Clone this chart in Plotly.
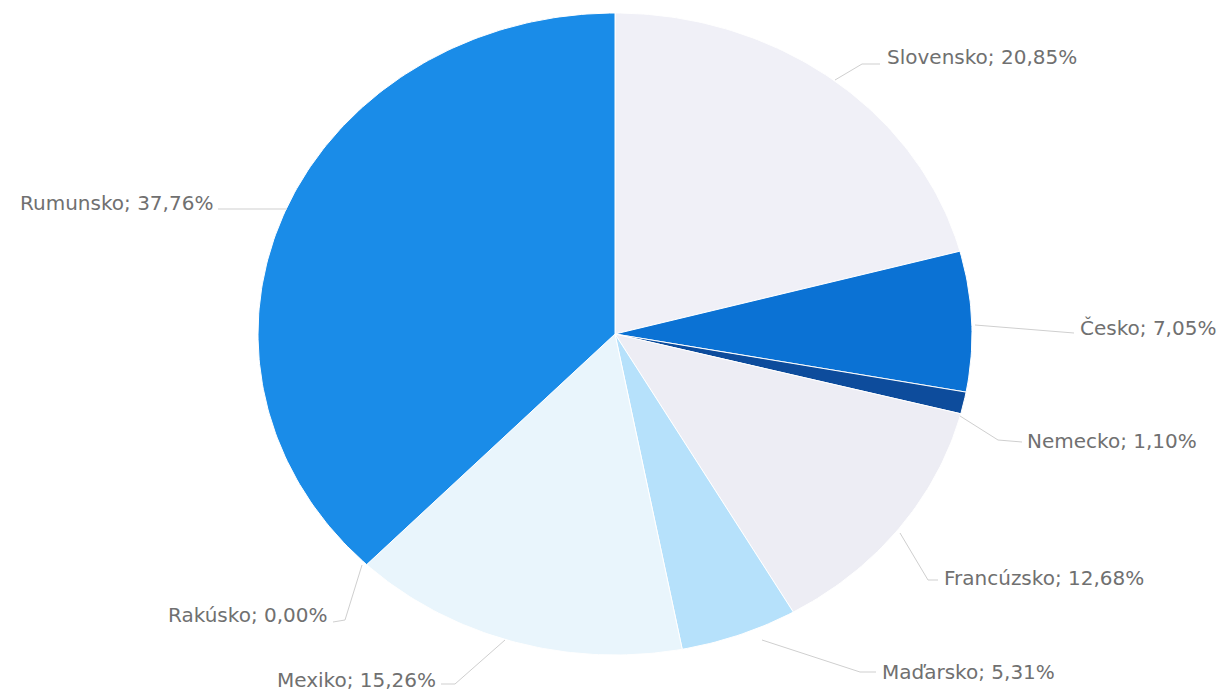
import math
import plotly.graph_objects as go

# Data (clockwise from 12 o'clock)
countries = ["Slovensko", "Česko", "Nemecko", "Francúzsko", "Maďarsko", "Mexiko", "Rakúsko", "Rumunsko"]
shares = [20.85, 7.05, 1.10, 12.68, 5.31, 15.26, 0.00, 37.76]
colors = ["#f0f0f7", "#0b72d4", "#0d4c9c", "#ededf4", "#b6e1fb", "#e9f5fc", "#e0f0fb", "#1a8ce8"]

# layout geometry (pixels)
W, H = 1229, 691
cx, cy, rx, ry = 615, 334, 357, 321

label_pos = {
    "Slovensko": (885, 57),
    "Česko": (1078, 328),
    "Nemecko": (1025, 441),
    "Francúzsko": (942, 578),
    "Maďarsko": (880, 672),
    "Mexiko": (438, 680),
    "Rakúsko": (330, 615),
    "Rumunsko": (215, 203),
}
label_anchor = {"Mexiko": "right", "Rakúsko": "right", "Rumunsko": "right"}
leaders = {
    "Slovensko": [(835, 80), (862, 64), (880, 64)],
    "Česko": [(975, 325), (1040, 330), (1074, 333)],
    "Nemecko": [(960, 416), (998, 440), (1022, 442)],
    "Francúzsko": [(900, 533), (928, 580), (938, 580)],
    "Maďarsko": [(762, 640), (860, 672), (876, 672)],
    "Mexiko": [(505, 640), (455, 684), (441, 684)],
    "Rakúsko": [(362, 565), (345, 620), (333, 622)],
    "Rumunsko": [(287, 209), (240, 209), (218, 209)],
}

fig = go.Figure()
total = sum(shares)
cum = 0.0
for name, val, col in zip(countries, shares, colors):
    a0 = cum / total * 2 * math.pi
    cum += val
    a1 = cum / total * 2 * math.pi
    if val <= 0:
        continue
    n = max(4, int(val * 4))
    xs, ys = [cx], [cy]
    for i in range(n + 1):
        a = a0 + (a1 - a0) * i / n
        xs.append(cx + rx * math.sin(a))
        ys.append(cy - ry * math.cos(a))
    xs.append(cx); ys.append(cy)
    fig.add_trace(go.Scatter(x=xs, y=ys, fill="toself", fillcolor=col, mode="lines",
                             line=dict(color="white", width=1), hoverinfo="skip",
                             showlegend=False))

for name, val in zip(countries, shares):
    pts = leaders[name]
    fig.add_trace(go.Scatter(x=[p[0] for p in pts], y=[p[1] for p in pts], mode="lines",
                             line=dict(color="#cfcfcf", width=1), hoverinfo="skip",
                             showlegend=False))
    x, y = label_pos[name]
    txt = f"{name}; {val:.2f}%".replace(".", ",")
    fig.add_annotation(x=x, y=y, text=txt, showarrow=False,
                       xanchor=label_anchor.get(name, "left"), yanchor="middle",
                       font=dict(family="DejaVu Sans", size=20, color="#707070"))

fig.update_layout(
    width=W, height=H, margin=dict(l=0, r=0, t=0, b=0),
    paper_bgcolor="white", plot_bgcolor="white",
    xaxis=dict(range=[0, W], visible=False, fixedrange=True),
    yaxis=dict(range=[H, 0], visible=False, fixedrange=True),
)
fig.write_html("out.html")
